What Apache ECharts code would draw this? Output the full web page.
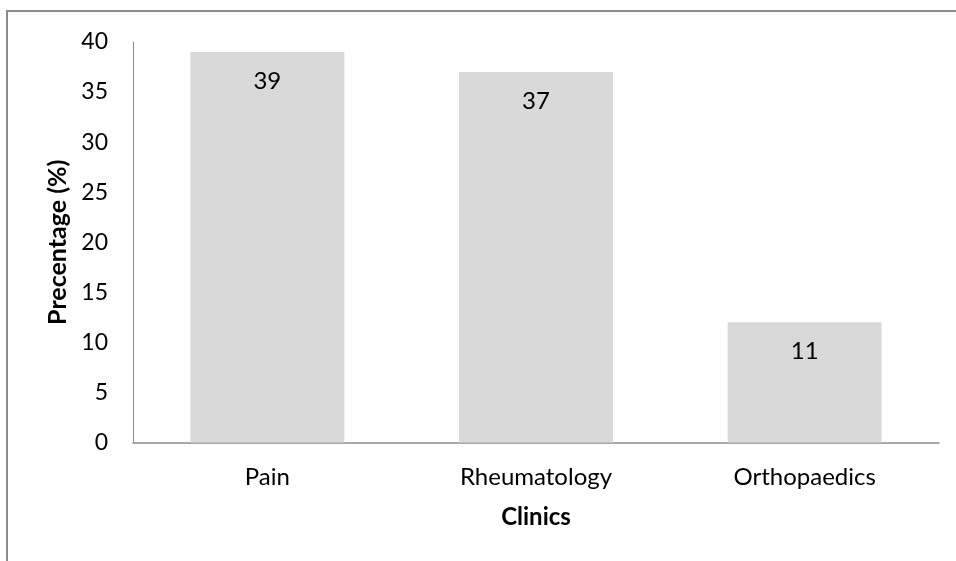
<!DOCTYPE html>
<html>
<head>
<meta charset="utf-8">
<script src="https://cdn.jsdelivr.net/npm/echarts@6/dist/echarts.min.js"></script>
<style>html,body{margin:0;padding:0;background:#fff;}#c{width:956px;height:561px;}</style>
</head>
<body>
<div id="c"></div>
<script>
const categories = ["Pain", "Rheumatology", "Orthopaedics"];
const values = [39, 37, 12];
const labels = ["39", "37", "11"];
const yTicks = [0, 5, 10, 15, 20, 25, 30, 35, 40];

const FONT = "Lato";
const chart = echarts.init(document.getElementById('c'), null, {renderer: 'canvas'});
chart.setOption({
  animation: false,
  backgroundColor: '#fff',
  graphic: [{
    type: 'rect', shape: {x: 7, y: 11, width: 1200, height: 1200},
    style: {fill: 'none', stroke: '#8c8c8c', lineWidth: 2}, silent: true
  }],
  grid: {left: 133, right: 17, top: 42, bottom: 118.5, containLabel: false},
  xAxis: {
    type: 'category', data: categories,
    axisLine: {lineStyle: {color: '#8c8c8c', width: 1.5}},
    axisTick: {show: false},
    axisLabel: {color: '#000', fontFamily: FONT, fontSize: 24, margin: 23},
    name: 'Clinics', nameLocation: 'middle', nameGap: 63,
    nameTextStyle: {color: '#000', fontFamily: FONT, fontSize: 24, fontWeight: 'bold'}
  },
  yAxis: {
    type: 'value', min: yTicks[0], max: yTicks[yTicks.length - 1], interval: 5,
    axisLine: {show: true, lineStyle: {color: '#8c8c8c', width: 1}},
    axisTick: {show: false},
    splitLine: {show: false},
    axisLabel: {color: '#000', fontFamily: FONT, fontSize: 23, margin: 25},
    name: 'Precentage (%)', nameLocation: 'middle', nameGap: 62, nameRotate: 90,
    nameTextStyle: {color: '#000', fontFamily: FONT, fontSize: 25, fontWeight: 'bold'}
  },
  series: [{
    type: 'bar', data: values, barWidth: 154,
    itemStyle: {color: '#d9d9d9'},
    label: {
      show: true, position: 'insideTop', distance: 17,
      color: '#000', fontFamily: FONT, fontSize: 24,
      formatter: p => labels[p.dataIndex]
    }
  }]
});
</script>
</body>
</html>
